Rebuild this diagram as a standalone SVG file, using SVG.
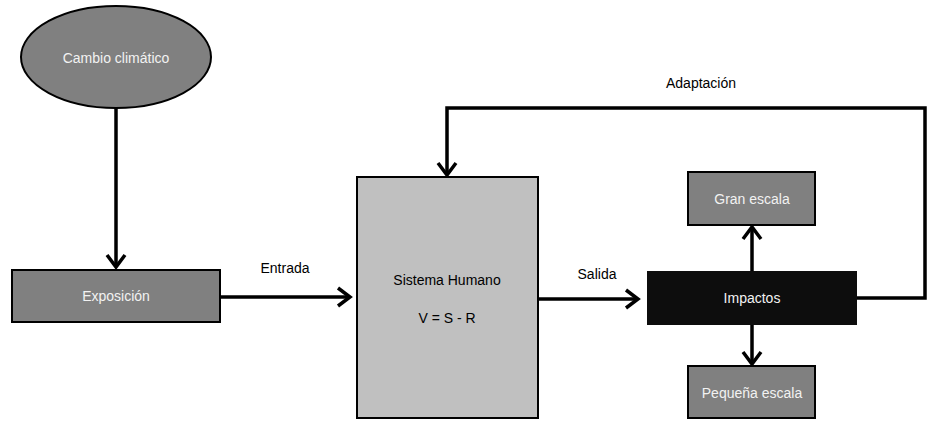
<svg xmlns="http://www.w3.org/2000/svg" width="935" height="422" viewBox="0 0 935 422">
<style>
.lbl{font-family:"Liberation Sans",Arial,sans-serif;font-size:14px;text-anchor:middle;dominant-baseline:central}
.lt{fill:#f2f2f2}
.dk{fill:#000}
.box{stroke:#000;stroke-width:2}
.conn{fill:none;stroke:#000;stroke-width:3.5;marker-end:url(#ah)}
</style>
<defs>
<marker id="ah" markerUnits="userSpaceOnUse" markerWidth="24" markerHeight="24" viewBox="-14 -12 16 24" refX="0" refY="0" orient="auto">
<path d="M-12,-9 L0,0 L-12,9" fill="none" stroke="#000" stroke-width="3.5" stroke-linejoin="miter"/>
</marker>
</defs>
<rect width="935" height="422" fill="#fff"/>
<g id="connectors">
<path class="conn" d="M116,108 V267"/>
<path class="conn" d="M220,297 H350"/>
<path class="conn" d="M538,299 H638"/>
<path class="conn" d="M752,271 V227"/>
<path class="conn" d="M752,325 V364"/>
<path class="conn" d="M857,298 H925 V108 H447 V175"/>
</g>
<g id="cambio">
<ellipse class="box" cx="116" cy="57" rx="95" ry="51" fill="#808080"/>
<text class="lbl lt" x="116" y="58">Cambio climático</text>
</g>
<g id="exposicion">
<rect class="box" x="12" y="270" width="208" height="52" fill="#808080"/>
<text class="lbl lt" x="116" y="296">Exposición</text>
</g>
<g id="sistema">
<rect class="box" x="357" y="177" width="181" height="241" fill="#c0c0c0"/>
<text class="lbl dk" x="447" y="280">Sistema Humano</text>
<text class="lbl dk" x="447" y="318">V = S - R</text>
</g>
<g id="impactos">
<rect x="647" y="271" width="210" height="54" fill="#0d0d0d"/>
<text class="lbl lt" x="752" y="298">Impactos</text>
</g>
<g id="gran">
<rect class="box" x="688" y="172" width="127" height="53" fill="#808080"/>
<text class="lbl lt" x="752" y="199">Gran escala</text>
</g>
<g id="pequena">
<rect class="box" x="688" y="366" width="127" height="52" fill="#808080"/>
<text class="lbl lt" x="752" y="393">Pequeña escala</text>
</g>
<g id="labels">
<text class="lbl dk" x="285" y="268">Entrada</text>
<text class="lbl dk" x="597" y="274">Salida</text>
<text class="lbl dk" x="701" y="83">Adaptación</text>
</g>
</svg>
